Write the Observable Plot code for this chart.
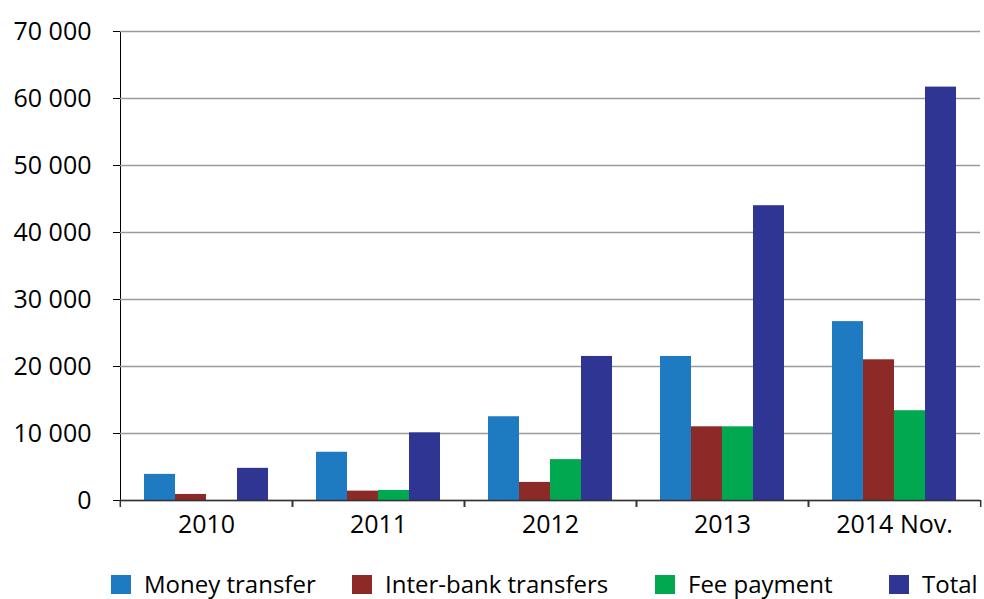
<!DOCTYPE html>
<html>
<head>
<meta charset="utf-8">
<script src="https://cdn.jsdelivr.net/npm/d3@7"></script>
<script src="https://cdn.jsdelivr.net/npm/@observablehq/plot@0.6"></script>
<style>
  body { margin: 0; background: #fff; font-family: "Open Sans", sans-serif; }
  #chart svg { display: block; }
  #legend { position: relative; width: 984px; height: 39px; }
  .item { position: absolute; top: 13px; display: flex; align-items: center; height: 22px; }
  .sw { width: 20px; height: 19px; margin-right: 13px; }
  .lab { font-size: 24px; color: #000; line-height: 22px; white-space: nowrap; }
</style>
</head>
<body>
<div id="chart"></div>
<div id="legend"></div>
<script>
const years = ["2010", "2011", "2012", "2013", "2014 Nov."];
const series = ["Money transfer", "Inter-bank transfers", "Fee payment", "Total"];
const moneyTransfer = [3900, 7200, 12500, 21500, 26700];
const interBank = [900, 1400, 2700, 11000, 21000];
const feePayment = [0, 1500, 6100, 11000, 13400];
const total = [4800, 10100, 21500, 44000, 61700];
const colors = ["#1f7bc1", "#8b2a27", "#00a84f", "#2e3592"];
const yTicks = [0, 10000, 20000, 30000, 40000, 50000, 60000, 70000];

const seriesValues = [moneyTransfer, interBank, feePayment, total];
const data = years.flatMap((year, i) =>
  series.map((s, j) => ({year, series: s, value: seriesValues[j][i]}))
);

const W = 984, H = 560, mL = 119, mR = 3, mT = 31, mB = 60;
const bw = (W - mL - mR) / years.length;
const fmt = d => d3.format(",")(d).replace(/,/g, " ");

const chart = Plot.plot({
  width: W, height: H,
  marginLeft: mL, marginRight: mR, marginTop: mT, marginBottom: mB,
  style: {fontFamily: "Open Sans", fontSize: "25px", color: "#000", background: "#fff"},
  fx: {domain: years, padding: 0, label: null},
  x: {domain: series, paddingInner: 0, paddingOuter: 0.7, axis: null},
  y: {domain: [0, 70000], ticks: yTicks, tickFormat: fmt, tickSize: 7, tickPadding: 22, label: null, line: true},
  color: {domain: series, range: colors},
  marks: [
    Plot.gridY(yTicks, {stroke: "#9a9a9a", strokeOpacity: 1, strokeWidth: 1.3}),
    Plot.barY(data, {fx: "year", x: "series", y: "value", fill: "series"}),
    Plot.ruleY([0], {stroke: "#333", strokeWidth: 1.5}),
    Plot.axisFx({anchor: "bottom", tickSize: 0, tickPadding: 15, label: null}),
    Plot.axisFx({anchor: "bottom", tickSize: 7, dx: bw / 2, tickFormat: () => "", label: null, stroke: "#333", strokeWidth: 1.5}),
    Plot.axisFx({anchor: "bottom", tickSize: 7, dx: -bw / 2, tickFormat: () => "", label: null, stroke: "#333", strokeWidth: 1.5})
  ]
});
document.getElementById("chart").appendChild(chart);

const legendX = [111, 352, 655, 889];
const legend = document.getElementById("legend");
series.forEach((s, i) => {
  const item = document.createElement("div");
  item.className = "item";
  item.style.left = legendX[i] + "px";
  const sw = document.createElement("div");
  sw.className = "sw";
  sw.style.background = colors[i];
  const lab = document.createElement("span");
  lab.className = "lab";
  lab.textContent = s;
  item.appendChild(sw);
  item.appendChild(lab);
  legend.appendChild(item);
});
</script>
</body>
</html>
